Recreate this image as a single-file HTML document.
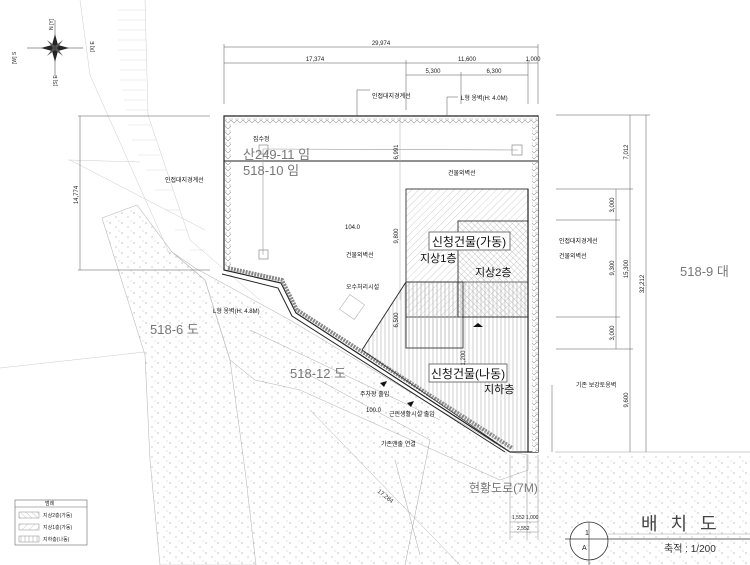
<!DOCTYPE html>
<html><head><meta charset="utf-8"><style>
html,body{margin:0;padding:0;background:#fff;}
svg{display:block;font-family:"Liberation Sans","Noto Sans CJK KR",sans-serif;}
</style></head><body>
<svg width="750" height="565" viewBox="0 0 750 565" xmlns="http://www.w3.org/2000/svg">
<defs>
<pattern id="dots" width="12" height="10" patternUnits="userSpaceOnUse">
<circle cx="2" cy="3" r="0.6" fill="#999"/><circle cx="8" cy="7" r="0.6" fill="#aaa"/><circle cx="11" cy="1" r="0.5" fill="#bbb"/>
</pattern>
<pattern id="h1" width="5" height="5" patternUnits="userSpaceOnUse" patternTransform="rotate(45)"><line x1="0" y1="0" x2="0" y2="5" stroke="#bbb" stroke-width="0.7"/></pattern>
<pattern id="h2" width="4" height="4" patternUnits="userSpaceOnUse" patternTransform="rotate(-45)"><line x1="0" y1="0" x2="0" y2="4" stroke="#aaa" stroke-width="0.7"/></pattern>
<pattern id="v" width="4" height="4" patternUnits="userSpaceOnUse"><line x1="1" y1="0" x2="1" y2="4" stroke="#bbb" stroke-width="0.7"/></pattern>
<pattern id="wall" width="6" height="6" patternUnits="userSpaceOnUse"><rect width="6" height="6" fill="#fff"/><path d="M0 3 L3 0 L6 3 M1 5 L5 5" stroke="#999" stroke-width="0.6" fill="none"/></pattern>
</defs>

<polygon points="102,218 137,205 172,252 205,280 230,360 245,470 256,565 160,565 150,460 145,355" fill="url(#dots)" stroke="#bbb" stroke-width="0.6"/>
<polygon points="172,252 195,268 290,320 510,452 528,455 528,470 500,480 460,462 300,390 255,380 230,360 205,280" fill="url(#dots)" stroke="#bbb" stroke-width="0.6"/>
<polygon points="230,360 300,390 460,470 470,565 256,565 245,470" fill="url(#dots)" stroke="none"/>
<polygon points="440,455 750,455 750,565 470,565 460,480" fill="url(#dots)"/>
<line x1="0" y1="368" x2="145" y2="352" stroke="#ccc" stroke-width="0.6"/>
<g stroke="#ccc" stroke-width="0.5">
<line x1="80" y1="0" x2="90" y2="75" /><line x1="90" y1="75" x2="170" y2="255"/><line x1="145" y1="0" x2="148" y2="115"/><line x1="148" y1="115" x2="190" y2="240"/><line x1="190" y1="240" x2="260" y2="300"/>
<line x1="68" y1="160" x2="140" y2="162"/><line x1="70" y1="160" x2="205" y2="230"/>
</g>
<g stroke="#ddd" stroke-width="0.5">
<line x1="118" y1="10" x2="146" y2="10"/><line x1="118" y1="20" x2="146" y2="20"/><line x1="118" y1="30" x2="146" y2="30"/><line x1="118" y1="40" x2="146" y2="40"/><line x1="118" y1="50" x2="146" y2="50"/><line x1="120" y1="60" x2="146" y2="60"/><line x1="120" y1="70" x2="146" y2="70"/><line x1="120" y1="80" x2="146" y2="80"/><line x1="122" y1="90" x2="146" y2="90"/><line x1="124" y1="100" x2="146" y2="100"/><line x1="126" y1="110" x2="148" y2="110"/><line x1="128" y1="125" x2="152" y2="125"/><line x1="132" y1="140" x2="156" y2="140"/><line x1="138" y1="155" x2="160" y2="155"/><line x1="146" y1="170" x2="166" y2="170"/><line x1="155" y1="190" x2="173" y2="190"/><line x1="165" y1="210" x2="180" y2="210"/><line x1="175" y1="230" x2="188" y2="230"/><line x1="190" y1="250" x2="205" y2="250"/>
</g>

<polygon points="224,116 538,116 538,452 510,452 296,313 281,283 224,270" fill="#fff" stroke="#222" stroke-width="1.2"/>
<rect x="225" y="117" width="312" height="7" fill="url(#wall)"/>
<rect x="532" y="117" width="6" height="335" fill="url(#wall)"/>
<rect x="225" y="117" width="6" height="150" fill="url(#wall)"/>
<polyline points="228,268 282,280 297,310 512,448" fill="none" stroke="#888" stroke-width="4" stroke-dasharray="2 1"/>
<polyline points="222,274 278,288 292,316 505,452" fill="none" stroke="#222" stroke-width="1"/>
<line x1="224" y1="161" x2="538" y2="161" stroke="#222" stroke-width="1"/>
<line x1="263" y1="149" x2="518" y2="150" stroke="#999" stroke-width="0.6"/>
<line x1="263" y1="149" x2="263" y2="255" stroke="#999" stroke-width="0.6"/>
<rect x="259" y="145" width="9" height="9" fill="none" stroke="#777" stroke-width="0.6"/>
<rect x="512" y="145" width="10" height="10" fill="none" stroke="#777" stroke-width="0.6"/>
<rect x="259" y="250" width="9" height="9" fill="none" stroke="#777" stroke-width="0.6"/>
<line x1="400" y1="116" x2="400" y2="300" stroke="#aaa" stroke-width="0.5"/>

<polygon points="406,282 528,282 528,452 510,452 362,350" fill="url(#v)" stroke="#333" stroke-width="0.8"/>
<rect x="406" y="189" width="122" height="128" fill="url(#h1)" stroke="#333" stroke-width="0.9"/>
<rect x="458" y="221" width="70" height="96" fill="url(#h2)" stroke="#333" stroke-width="0.9"/>
<rect x="406" y="282" width="57" height="66" fill="url(#v)" stroke="#333" stroke-width="0.9"/>
<line x1="406" y1="282" x2="362" y2="350" stroke="#333" stroke-width="0.8"/>
<line x1="528" y1="189" x2="528" y2="452" stroke="#222" stroke-width="1.2"/>
<rect x="429" y="232" width="81" height="18" fill="#fff" stroke="#555" stroke-width="0.8"/>
<text x="469" y="246" font-size="12" text-anchor="middle" fill="#111">신청건물(가동)</text>
<text x="420" y="262" font-size="11" fill="#111">지상1층</text>
<text x="475" y="276" font-size="11" fill="#111">지상2층</text>
<rect x="429" y="364" width="78" height="18" fill="#fff" stroke="#555" stroke-width="0.8"/>
<text x="468" y="378" font-size="12" text-anchor="middle" fill="#111">신청건물(나동)</text>
<text x="484" y="393" font-size="11" fill="#111">지하층</text>
<polygon points="473,327 478,323 483,327" fill="#111"/>

<g stroke="#aaa" stroke-width="0.5" fill="none">
<rect x="343" y="298" width="18" height="18" transform="rotate(35 352 307)"/>
<line x1="250" y1="330" x2="440" y2="420"/><line x1="300" y1="370" x2="430" y2="440"/>
<line x1="430" y1="440" x2="405" y2="565"/><line x1="310" y1="410" x2="460" y2="565"/>
<line x1="395" y1="460" x2="420" y2="555"/>
</g>
<text x="377" y="492" font-size="6" fill="#333" transform="rotate(38 377 492)">17,284</text>

<g stroke="#555" stroke-width="0.5">
<line x1="224" y1="47" x2="538" y2="47"/><line x1="224" y1="63" x2="538" y2="63"/><line x1="406" y1="75" x2="528" y2="75"/>
<line x1="224" y1="44" x2="224" y2="104"/><line x1="538" y1="44" x2="538" y2="104"/><line x1="406" y1="60" x2="406" y2="110"/><line x1="461" y1="72" x2="461" y2="104"/><line x1="528" y1="60" x2="528" y2="104"/>
<line x1="630" y1="115" x2="630" y2="452"/><line x1="646" y1="115" x2="646" y2="452"/><line x1="616" y1="189" x2="616" y2="349"/>
<line x1="556" y1="115" x2="650" y2="115"/><line x1="556" y1="189" x2="633" y2="189"/><line x1="556" y1="220" x2="620" y2="220"/><line x1="556" y1="317" x2="620" y2="317"/><line x1="556" y1="349" x2="633" y2="349"/>
<line x1="80" y1="116" x2="80" y2="270"/><line x1="78" y1="116" x2="210" y2="116"/><line x1="78" y1="270" x2="210" y2="270"/>
<line x1="552" y1="385" x2="552" y2="452"/><line x1="555" y1="452" x2="750" y2="452" stroke="#999"/>
<line x1="357" y1="90" x2="357" y2="116"/><line x1="357" y1="90" x2="370" y2="90"/>
<line x1="447" y1="97" x2="447" y2="116"/><line x1="447" y1="97" x2="458" y2="97"/>
</g>
<g font-size="6" fill="#222" text-anchor="middle">
<text x="381" y="45">29,974</text><text x="315" y="61">17,374</text><text x="467" y="61">11,600</text><text x="533" y="61">1,000</text>
<text x="433" y="73">5,300</text><text x="494" y="73">6,300</text>
<text transform="translate(628,152) rotate(-90)">7,012</text>
<text transform="translate(628,269) rotate(-90)">15,300</text>
<text transform="translate(644,284) rotate(-90)">32,212</text>
<text transform="translate(614,205) rotate(-90)">3,000</text>
<text transform="translate(614,268) rotate(-90)">9,300</text>
<text transform="translate(614,333) rotate(-90)">3,000</text>
<text transform="translate(628,400) rotate(-90)">9,600</text>
<text transform="translate(78,195) rotate(-90)">14,774</text>
<text transform="translate(398,152) rotate(-90)">6,991</text>
<text transform="translate(398,236) rotate(-90)">9,800</text>
<text transform="translate(398,320) rotate(-90)">6,500</text>
<text transform="translate(465,358) rotate(-90)">1,200</text>
</g>
<g font-size="6" fill="#111">
<text x="372" y="98">인접대지경계선</text><text x="461" y="100">L형 옹벽(H: 4.0M)</text>
<text x="253" y="141">집수정</text><text x="448" y="175">건물외벽선</text>
<text x="165" y="182">인접대지경계선</text><text x="345" y="229">104.0</text>
<text x="346" y="257">건물외벽선</text><text x="346" y="289">오수처리시설</text>
<text x="213" y="313">L형 옹벽(H: 4.8M)</text>
<text x="559" y="243">인접대지경계선</text><text x="559" y="258">건물외벽선</text>
<text x="576" y="387">기존 보강토옹벽</text>
<text x="360" y="396">주차장 출입</text><text x="366" y="412">100.0</text>
<text x="389" y="416">근린생활시설 출입</text><text x="381" y="446">기존앤출 연결</text>
</g>
<polygon points="380,383 387,381 384,387" fill="#111"/><polygon points="407,403 414,401 411,407" fill="#111"/>
<g fill="#777" font-size="13">
<text x="243" y="159">산249-11 임</text><text x="243" y="175">518-10 임</text>
<text x="680" y="276">518-9 대</text><text x="150" y="334">518-6 도</text>
<text x="290" y="378">518-12 도</text><text x="469" y="492" font-size="12">현황도로(7M)</text>
</g>
<g stroke="#888" stroke-width="0.5"><line x1="510" y1="455" x2="510" y2="540"/><line x1="527" y1="455" x2="527" y2="540"/><line x1="538" y1="455" x2="538" y2="540"/><line x1="510" y1="522" x2="538" y2="522"/><line x1="510" y1="532" x2="538" y2="532"/></g>
<text x="512" y="519" font-size="5" fill="#222">1,552 1,000</text><text x="517" y="530" font-size="5" fill="#222">2,552</text>

<g transform="translate(55,48)">
<polygon points="0,-14 3,-3 14,0 3,3 0,14 -3,3 -14,0 -3,-3" fill="#222"/>
<polygon points="-8,-8 0,-2 8,-8 2,0 8,8 0,2 -8,8 -2,0" fill="#555"/>
<line x1="-28" y1="0" x2="28" y2="0" stroke="#333" stroke-width="0.5"/><line x1="0" y1="-28" x2="0" y2="28" stroke="#333" stroke-width="0.5"/>
</g>
<g font-size="5" fill="#222">
<text transform="translate(53,30) rotate(-90)">N [Y]</text><text transform="translate(94,52) rotate(-90)">[X] E</text>
<text transform="translate(16,64) rotate(-90)">[W] S</text><text transform="translate(57,86) rotate(-90)">[S] E</text>
</g>

<rect x="15" y="500" width="72" height="45" fill="#fff" stroke="#666" stroke-width="0.6"/>
<line x1="15" y1="507" x2="87" y2="507" stroke="#666" stroke-width="0.6"/>
<g font-size="5" fill="#222"><text x="45" y="505">범례</text><text x="43" y="517">지상2층(가동)</text><text x="43" y="529">지상1층(가동)</text><text x="43" y="541">지하층(나동)</text></g>
<rect x="19" y="512" width="20" height="6" fill="url(#h2)" stroke="#888" stroke-width="0.5"/>
<rect x="19" y="524" width="20" height="6" fill="url(#h1)" stroke="#888" stroke-width="0.5"/>
<rect x="19" y="536" width="20" height="6" fill="url(#v)" stroke="#888" stroke-width="0.5"/>

<circle cx="589" cy="541" r="19" fill="#fff" stroke="#333" stroke-width="0.8"/>
<line x1="565" y1="539" x2="750" y2="539" stroke="#333" stroke-width="0.8"/>
<line x1="589" y1="522" x2="589" y2="565" stroke="#333" stroke-width="0.6"/>
<line x1="608" y1="534" x2="750" y2="534" stroke="#888" stroke-width="0.4"/>
<text x="585" y="535" font-size="7" fill="#222">1</text><text x="582" y="550" font-size="7" fill="#222">A</text>
<text x="641" y="530" font-size="18" fill="#444" letter-spacing="4">배 치 도</text>
<text x="664" y="552" font-size="10" fill="#333">축적 : 1/200</text>
</svg>
</body></html>
